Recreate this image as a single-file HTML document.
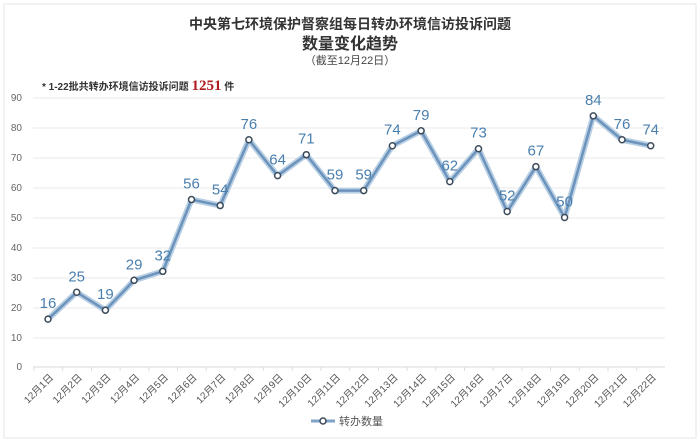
<!DOCTYPE html>
<html><head><meta charset="utf-8"><style>
body{margin:0;background:#fff;}
svg{display:block;font-family:"Liberation Sans","Noto Sans CJK SC",sans-serif;}
</style></head><body>
<svg width="700" height="442" viewBox="0 0 700 442">
<rect x="0" y="0" width="700" height="442" fill="#fff"/>
<rect x="4" y="4" width="692" height="434" fill="none" stroke="#e6e6e6"/>
<text x="350" y="29" text-anchor="middle" font-size="14" font-weight="bold" fill="#333">中央第七环境保护督察组每日转办环境信访投诉问题</text>
<text x="350" y="49" text-anchor="middle" font-size="16" font-weight="bold" fill="#333">数量变化趋势</text>
<text x="350" y="64" text-anchor="middle" font-size="11" fill="#444">（截至12月22日）</text>
<text x="42" y="90" font-size="10" font-weight="bold" fill="#333">* 1-22批共转办环境信访投诉问题 <tspan font-size="15" fill="#b01c1c" font-family="Liberation Serif">1251</tspan> 件</text>
<g stroke="#e8e8e8" stroke-width="1">
<line x1="33" y1="98" x2="665" y2="98"/><line x1="33" y1="128" x2="665" y2="128"/>
<line x1="33" y1="158" x2="665" y2="158"/><line x1="33" y1="188" x2="665" y2="188"/>
<line x1="33" y1="218" x2="665" y2="218"/><line x1="33" y1="248" x2="665" y2="248"/>
<line x1="33" y1="278" x2="665" y2="278"/><line x1="33" y1="308" x2="665" y2="308"/>
<line x1="33" y1="338" x2="665" y2="338"/><line x1="33" y1="367" x2="665" y2="367" stroke="#d8d8d8"/>
</g>
<g font-size="10" fill="#666" text-anchor="end">
<text x="22" y="101">90</text><text x="22" y="131">80</text><text x="22" y="161">70</text><text x="22" y="191">60</text><text x="22" y="221">50</text><text x="22" y="251">40</text><text x="22" y="281">30</text><text x="22" y="311">20</text><text x="22" y="341">10</text><text x="22" y="370">0</text>
</g>
<g id="c"></g>
</svg>
<script>
var d=[16,25,19,29,32,56,54,76,64,71,59,59,74,79,62,73,52,67,50,84,76,74];
var s=document.querySelector('svg'),ns='http://www.w3.org/2000/svg';
function X(i){return 48+i*28.7}function Y(v){return 367-2.99*v}
function el(t,a,txt){var e=document.createElementNS(ns,t);for(var k in a)e.setAttribute(k,a[k]);if(txt)e.textContent=txt;s.appendChild(e);return e}
var p=d.map(function(v,i){return X(i)+','+Y(v)}).join(' ');
el('polyline',{points:p,fill:'none',stroke:'#b8cfe4','stroke-width':6,'stroke-linejoin':'round'});
el('polyline',{points:p,fill:'none',stroke:'#6c93bb','stroke-width':2.5,'stroke-linejoin':'round'});
d.forEach(function(v,i){
el('circle',{cx:X(i),cy:Y(v),r:3,fill:'#fff',stroke:'#3c4a5a','stroke-width':1.5});
el('text',{x:X(i),y:Y(v)-11,'text-anchor':'middle','font-size':15,fill:'#4a7fae'},v);
el('line',{x1:X(i)-14,y1:367,x2:X(i)-14,y2:371,stroke:'#ddd'});
el('text',{x:X(i)+6,y:378,'text-anchor':'end','font-size':10,fill:'#555',transform:'rotate(-45 '+(X(i)+6)+' 378)'},'12月'+(i+1)+'日');
});
el('line',{x1:311,y1:421,x2:335,y2:421,stroke:'#7fa3c8','stroke-width':3});
el('circle',{cx:323,cy:421,r:3,fill:'#fff',stroke:'#3c4a5a','stroke-width':1.5});
el('text',{x:339,y:425,'font-size':11,fill:'#555'},'转办数量');
</script>
</body></html>
